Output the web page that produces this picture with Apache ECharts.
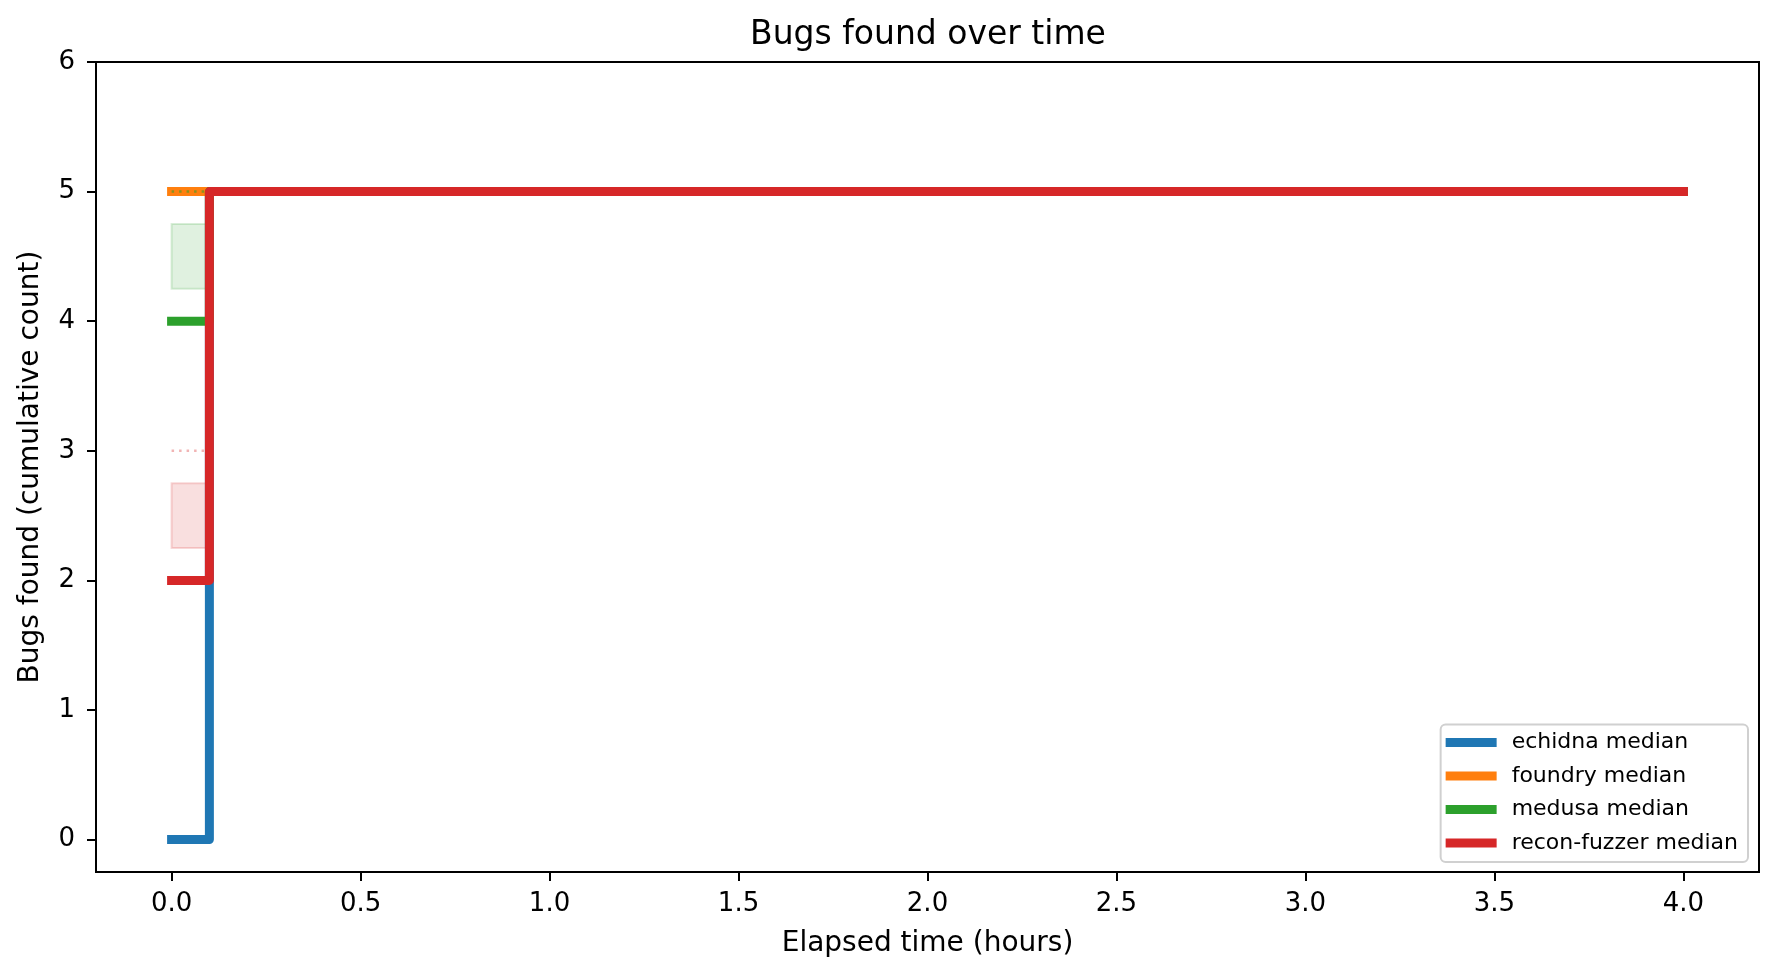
<!DOCTYPE html>
<html>
<head>
<meta charset="utf-8">
<title>Bugs found over time</title>
<script src="https://cdn.jsdelivr.net/npm/echarts@6/dist/echarts.min.js"></script>
<style>
  html, body { margin: 0; padding: 0; background: #fff; }
  #chart { width: 1779px; height: 978px; }
</style>
</head>
<body>
<div id="chart"></div>
<script>
'use strict'

// elapsed time in hours for each step of the runs
const times = [0, 0.1, 4.0];

// median bugs found per fuzzer
const echidnaMedian = [0, 5, 5];
const foundryMedian = [5, 5, 5];
const medusaMedian = [4, 5, 5];
const reconMedian = [2, 5, 5];

// mean lines (dotted)
const medusaMean = [5, 5, 5];
const reconMean = [3, 5, 5];

// spread bands before the first step
const bandTimes = [0, 0.1];
const medusaBand = [4.25, 4.75];
const reconBand = [2.25, 2.75];

const xTicks = [0, 0.5, 1.0, 1.5, 2.0, 2.5, 3.0, 3.5, 4.0];
const yTicks = [0, 1, 2, 3, 4, 5, 6];

const COLORS = {
  echidna: '#1f77b4',
  foundry: '#ff7f0e',
  medusa: '#2ca02c',
  recon: '#d62728'
};

const FONT = 'DejaVu Sans';

function pairs(ys) {
  return times.map((t, i) => [t, ys[i]]);
}

function medianSeries(name, color, ys) {
  return {
    name: name,
    type: 'line',
    step: 'end',
    data: pairs(ys),
    symbol: 'none',
    silent: true,
    color: color,
    lineStyle: { color: color, width: 9, cap: 'square', join: 'round' }
  };
}

function meanSeries(name, color, ys, opacity, band) {
  const s = {
    name: name,
    type: 'line',
    step: 'end',
    data: pairs(ys),
    symbol: 'none',
    silent: true,
    lineStyle: { color: color, width: 2.5, type: [2.5, 5], opacity: opacity }
  };
  if (band) {
    s.markArea = {
      silent: true,
      itemStyle: {
        color: band.fill,
        borderColor: band.edge,
        borderWidth: 2
      },
      data: [[
        { xAxis: bandTimes[0], yAxis: band.range[0] },
        { xAxis: bandTimes[1], yAxis: band.range[1] }
      ]]
    };
  }
  return s;
}

const chart = echarts.init(document.getElementById('chart'), null, { renderer: 'canvas' });

const option = {
  animation: false,
  backgroundColor: '#ffffff',
  textStyle: { fontFamily: FONT },
  title: {
    text: 'Bugs found over time',
    left: 750,
    top: 19,
    padding: 0,
    textStyle: { fontFamily: FONT, fontSize: 33, fontWeight: 'normal', color: '#000' }
  },
  grid: {
    left: 96,
    right: 20,
    top: 62,
    bottom: 106,
    show: true,
    borderColor: '#000',
    borderWidth: 2,
    backgroundColor: 'transparent'
  },
  legend: {
    data: ['echidna median', 'foundry median', 'medusa median', 'recon-fuzzer median'],
    orient: 'vertical',
    right: 31,
    bottom: 116,
    icon: 'rect',
    itemWidth: 51,
    itemHeight: 9,
    itemGap: 9.5,
    padding: [6, 10, 7, 5],
    backgroundColor: 'rgba(255,255,255,0.8)',
    borderColor: '#d0d0d0',
    borderWidth: 2,
    borderRadius: 5,
    selectedMode: false,
    textStyle: { fontFamily: FONT, fontSize: 22, color: '#000', lineHeight: 24, padding: [0, 0, 0, 10] }
  },
  xAxis: {
    type: 'value',
    min: -0.2,
    max: 4.2,
    name: 'Elapsed time (hours)',
    nameLocation: 'middle',
    nameGap: 58,
    nameTextStyle: { fontFamily: FONT, fontSize: 28, color: '#000' },
    axisLine: { show: false, onZero: false },
    splitLine: { show: false },
    axisTick: {
      show: true,
      length: 9,
      customValues: xTicks,
      lineStyle: { color: '#000', width: 2 }
    },
    axisLabel: {
      customValues: xTicks,
      margin: 19,
      fontFamily: FONT,
      fontSize: 26,
      color: '#000',
      formatter: v => v.toFixed(1)
    }
  },
  yAxis: {
    type: 'value',
    min: -0.25,
    max: 6,
    name: 'Bugs found (cumulative count)',
    nameLocation: 'middle',
    nameGap: 51,
    nameTextStyle: { fontFamily: FONT, fontSize: 28, color: '#000' },
    axisLine: { show: false, onZero: false },
    splitLine: { show: false },
    axisTick: {
      show: true,
      length: 9,
      customValues: yTicks,
      lineStyle: { color: '#000', width: 2 }
    },
    axisLabel: {
      customValues: yTicks,
      margin: 21,
      fontFamily: FONT,
      fontSize: 26,
      color: '#000',
      formatter: v => String(v)
    }
  },
  series: [
    medianSeries('echidna median', COLORS.echidna, echidnaMedian),
    medianSeries('foundry median', COLORS.foundry, foundryMedian),
    medianSeries('medusa median', COLORS.medusa, medusaMedian),
    meanSeries('medusa mean', COLORS.medusa, medusaMean, 0.55, {
      range: medusaBand,
      fill: 'rgba(44,160,44,0.15)',
      edge: 'rgba(44,160,44,0.18)'
    }),
    meanSeries('recon-fuzzer mean', COLORS.recon, reconMean, 0.35, {
      range: reconBand,
      fill: 'rgba(214,39,40,0.15)',
      edge: 'rgba(214,39,40,0.18)'
    }),
    medianSeries('recon-fuzzer median', COLORS.recon, reconMedian)
  ]
};

chart.setOption(option);
</script>
</body>
</html>
